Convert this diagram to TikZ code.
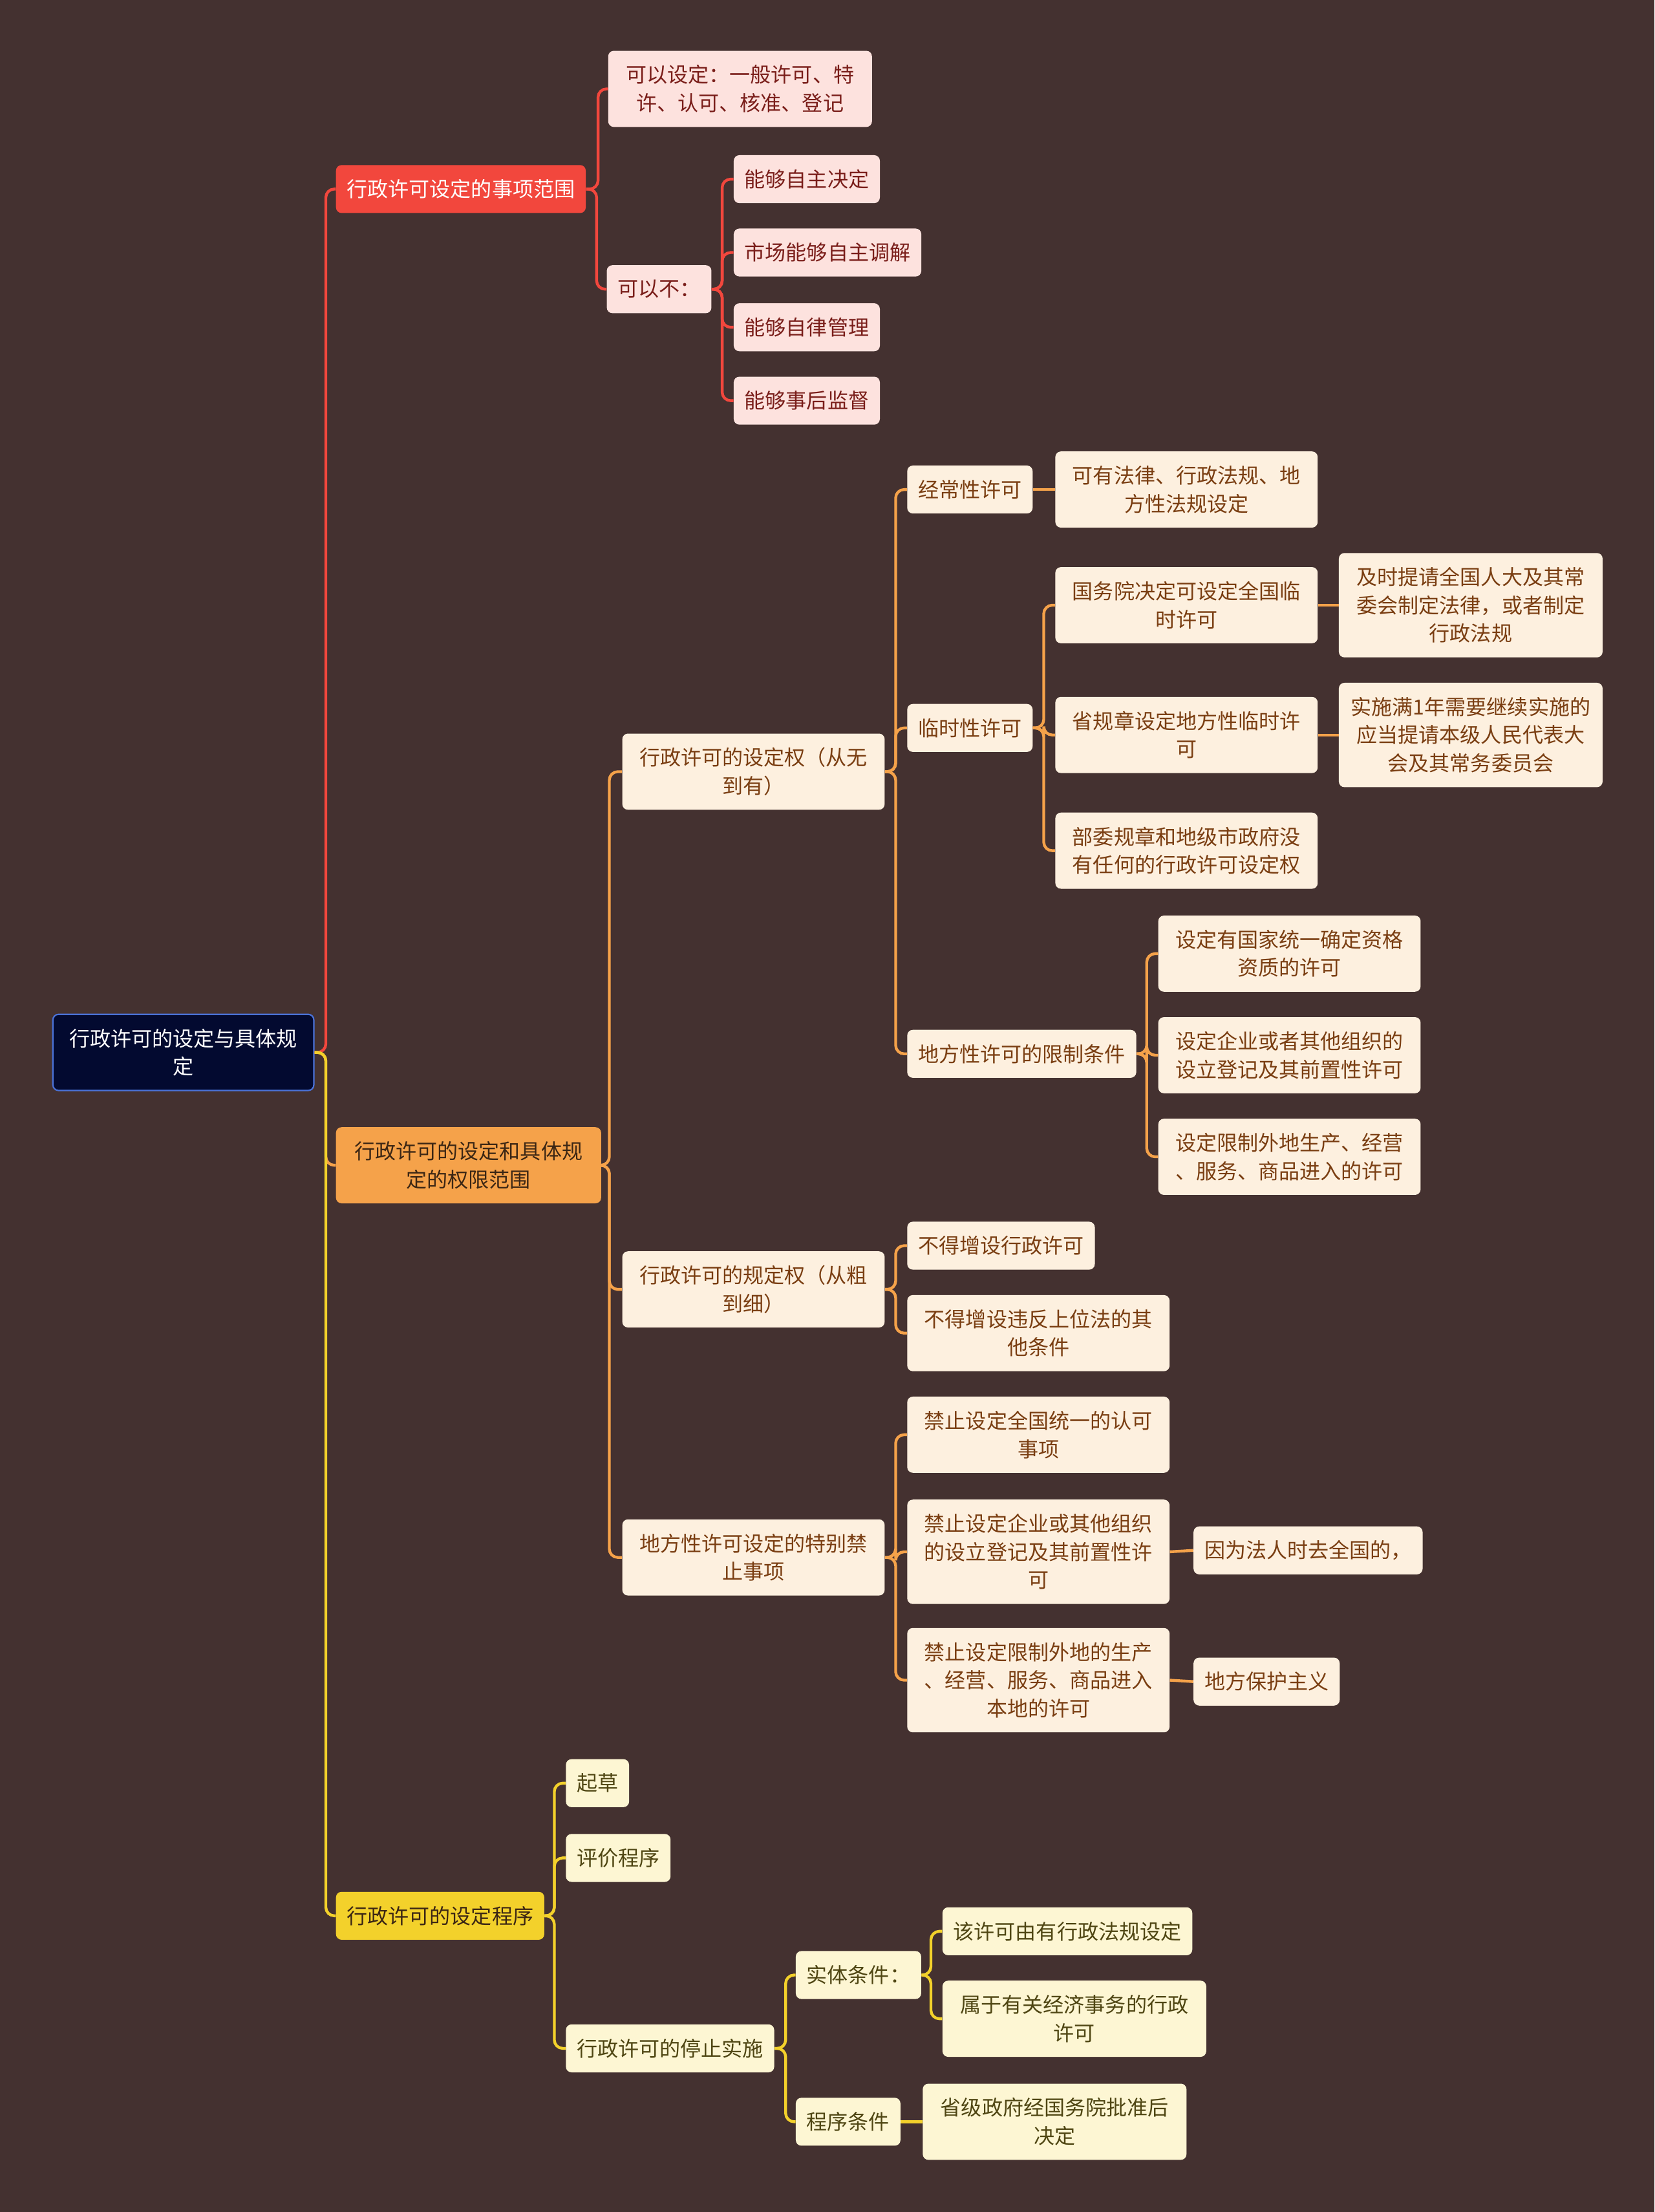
\documentclass[tikz,border=0pt]{standalone}
\usepackage{fontspec}
\setmainfont{Noto Sans CJK SC}
\usepackage{xcolor}

\definecolor{bgbrown}{HTML}{443130}
\definecolor{rootnavy}{HTML}{030A30}
\definecolor{rootblue}{HTML}{4A72D8}
\definecolor{topred}{HTML}{F2473D}
\definecolor{toporange}{HTML}{F5A24A}
\definecolor{topyellow}{HTML}{F3D12B}
\definecolor{leafpink}{HTML}{FDE2DE}
\definecolor{leafcream}{HTML}{FDF0DF}
\definecolor{leaflemon}{HTML}{FDF6D3}
\definecolor{inkred}{HTML}{7A1E1A}
\definecolor{inkbrown}{HTML}{7A3E12}
\definecolor{inkolive}{HTML}{4F4613}
\definecolor{inkdark}{HTML}{3B2614}

\begin{document}
\begin{tikzpicture}[x=1pt, y=-1pt,
    box/.style={rectangle, rounded corners=4pt, anchor=west, minimum height=34pt, inner xsep=7.7pt, inner ysep=2pt, align=center, font=\fontsize{14.7}{20}\selectfont},
    h2/.style={minimum height=54pt},
    h3/.style={minimum height=74pt},
    wide/.style={minimum width=186pt},
    rootbox/.style={box, fill=rootnavy, draw=rootblue, line width=1pt, text=white, minimum width=185pt, h2},
    redtopic/.style={box, fill=topred, text=white},
    orangetopic/.style={box, fill=toporange, text=inkdark},
    yellowtopic/.style={box, fill=topyellow, text=inkdark},
    pinkleaf/.style={box, fill=leafpink, text=inkred},
    creamleaf/.style={box, fill=leafcream, text=inkbrown},
    lemonleaf/.style={box, fill=leaflemon, text=inkolive},
    link/.style={line width=2pt, rounded corners=6pt},
    redlink/.style={link, draw=topred},
    orangelink/.style={link, draw=toporange},
    yellowlink/.style={link, draw=topyellow}
]

\fill[bgbrown] (0,0) rectangle (1173,1568);
\useasboundingbox (0,0) rectangle (1173,1568);

% root and main topics
\node[rootbox] (root) at (37,746) {行政许可的设定与具体规\\定};
\node[redtopic] (scope) at (238,134) {行政许可设定的事项范围};
\node[orangetopic, h2, minimum width=188pt] (power) at (238,826) {行政许可的设定和具体规\\定的权限范围};
\node[yellowtopic] (proc) at (238,1358) {行政许可的设定程序};

% matters that may be set
\node[pinkleaf, h2, minimum width=187pt] (canset) at (431,63) {可以设定：一般许可、特\\许、认可、核准、登记};
\node[pinkleaf] (cannot) at (430,205) {可以不：};
\node[pinkleaf] (selfdecide) at (520,127) {能够自主决定};
\node[pinkleaf] (market) at (520,179) {市场能够自主调解};
\node[pinkleaf] (selfrule) at (520,232) {能够自律管理};
\node[pinkleaf] (aftercheck) at (520,284) {能够事后监督};

% powers
\node[creamleaf, h2, wide] (create) at (441,547) {行政许可的设定权（从无\\到有）};
\node[creamleaf, h2, wide] (regul) at (441,914) {行政许可的规定权（从粗\\到细）};
\node[creamleaf, h2, wide] (ban) at (441,1104) {地方性许可设定的特别禁\\止事项};

\node[creamleaf] (usual) at (643,347) {经常性许可};
\node[creamleaf, h2, wide] (usualA) at (748,347) {可有法律、行政法规、地\\方性法规设定};
\node[creamleaf] (temp) at (643,516) {临时性许可};
\node[creamleaf, h2, wide] (tempA) at (748,429) {国务院决定可设定全国临\\时许可};
\node[creamleaf, h3, minimum width=187pt] (tempAx) at (949,429) {及时提请全国人大及其常\\委会制定法律，或者制定\\行政法规};
\node[creamleaf, h2, wide] (tempB) at (748,521) {省规章设定地方性临时许\\可};
\node[creamleaf, h3, minimum width=187pt] (tempBx) at (949,521) {实施满1年需要继续实施的\\应当提请本级人民代表大\\会及其常务委员会};
\node[creamleaf, h2, wide] (tempC) at (748,603) {部委规章和地级市政府没\\有任何的行政许可设定权};
\node[creamleaf] (local) at (643,747) {地方性许可的限制条件};
\node[creamleaf, h2, wide] (localA) at (821,676) {设定有国家统一确定资格\\资质的许可};
\node[creamleaf, h2, wide] (localB) at (821,748) {设定企业或者其他组织的\\设立登记及其前置性许可};
\node[creamleaf, h2, wide] (localC) at (821,820) {设定限制外地生产、经营\\、服务、商品进入的许可};

\node[creamleaf] (regA) at (643,883) {不得增设行政许可};
\node[creamleaf, h2, wide] (regB) at (643,945) {不得增设违反上位法的其\\他条件};

\node[creamleaf, h2, wide] (banA) at (643,1017) {禁止设定全国统一的认可\\事项};
\node[creamleaf, h3, wide] (banB) at (643,1100) {禁止设定企业或其他组织\\的设立登记及其前置性许\\可};
\node[creamleaf] (banBx) at (846,1099) {因为法人时去全国的，};
\node[creamleaf, h3, wide] (banC) at (643,1191) {禁止设定限制外地的生产\\、经营、服务、商品进入\\本地的许可};
\node[creamleaf] (banCx) at (846,1192) {地方保护主义};

% procedure
\node[lemonleaf] (draft) at (401,1264) {起草};
\node[lemonleaf] (review) at (401,1317) {评价程序};
\node[lemonleaf] (stop) at (401,1452) {行政许可的停止实施};
\node[lemonleaf] (subst) at (564,1400) {实体条件：};
\node[lemonleaf] (substA) at (668,1369) {该许可由有行政法规设定};
\node[lemonleaf, h2, minimum width=187pt] (substB) at (668,1431) {属于有关经济事务的行政\\许可};
\node[lemonleaf] (formal) at (564,1504) {程序条件};
\node[lemonleaf, h2, minimum width=187pt] (formalA) at (654,1504) {省级政府经国务院批准后\\决定};

% connectors
\draw[redlink] (root.east) -| ([xshift=-7pt]scope.west) -- (scope.west);
\draw[orangelink] (root.east) -| ([xshift=-7pt]power.west) -- (power.west);
\draw[yellowlink] (root.east) -| ([xshift=-7pt]proc.west) -- (proc.west);

\draw[redlink] (scope.east) -| ([xshift=-7pt]canset.west) -- (canset.west);
\draw[redlink] (scope.east) -| ([xshift=-7pt]cannot.west) -- (cannot.west);
\draw[redlink] (cannot.east) -| ([xshift=-8pt]selfdecide.west) -- (selfdecide.west);
\draw[redlink] (cannot.east) -| ([xshift=-8pt]market.west) -- (market.west);
\draw[redlink] (cannot.east) -| ([xshift=-8pt]selfrule.west) -- (selfrule.west);
\draw[redlink] (cannot.east) -| ([xshift=-8pt]aftercheck.west) -- (aftercheck.west);

\draw[orangelink] (power.east) -| ([xshift=-9pt]create.west) -- (create.west);
\draw[orangelink] (power.east) -| ([xshift=-9pt]regul.west) -- (regul.west);
\draw[orangelink] (power.east) -| ([xshift=-9pt]ban.west) -- (ban.west);

\draw[orangelink] (create.east) -| ([xshift=-8pt]usual.west) -- (usual.west);
\draw[orangelink] (create.east) -| ([xshift=-8pt]temp.west) -- (temp.west);
\draw[orangelink] (create.east) -| ([xshift=-8pt]local.west) -- (local.west);
\draw[orangelink] (usual.east) -- (usualA.west);
\draw[orangelink] (temp.east) -| ([xshift=-8pt]tempA.west) -- (tempA.west);
\draw[orangelink] (temp.east) -| ([xshift=-8pt]tempB.west) -- (tempB.west);
\draw[orangelink] (temp.east) -| ([xshift=-8pt]tempC.west) -- (tempC.west);
\draw[orangelink] (tempA.east) -- (tempAx.west);
\draw[orangelink] (tempB.east) -- (tempBx.west);
\draw[orangelink] (local.east) -| ([xshift=-8pt]localA.west) -- (localA.west);
\draw[orangelink] (local.east) -| ([xshift=-8pt]localB.west) -- (localB.west);
\draw[orangelink] (local.east) -| ([xshift=-8pt]localC.west) -- (localC.west);

\draw[orangelink] (regul.east) -| ([xshift=-8pt]regA.west) -- (regA.west);
\draw[orangelink] (regul.east) -| ([xshift=-8pt]regB.west) -- (regB.west);

\draw[orangelink] (ban.east) -| ([xshift=-8pt]banA.west) -- (banA.west);
\draw[orangelink] (ban.east) -| ([xshift=-8pt]banB.west) -- (banB.west);
\draw[orangelink] (ban.east) -| ([xshift=-8pt]banC.west) -- (banC.west);
\draw[orangelink] (banB.east) -- (banBx.west);
\draw[orangelink] (banC.east) -- (banCx.west);

\draw[yellowlink] (proc.east) -| ([xshift=-8pt]draft.west) -- (draft.west);
\draw[yellowlink] (proc.east) -| ([xshift=-8pt]review.west) -- (review.west);
\draw[yellowlink] (proc.east) -| ([xshift=-8pt]stop.west) -- (stop.west);
\draw[yellowlink] (stop.east) -| ([xshift=-7pt]subst.west) -- (subst.west);
\draw[yellowlink] (stop.east) -| ([xshift=-7pt]formal.west) -- (formal.west);
\draw[yellowlink] (subst.east) -| ([xshift=-8pt]substA.west) -- (substA.west);
\draw[yellowlink] (subst.east) -| ([xshift=-8pt]substB.west) -- (substB.west);
\draw[yellowlink] (formal.east) -- (formalA.west);

\end{tikzpicture}
\end{document}
